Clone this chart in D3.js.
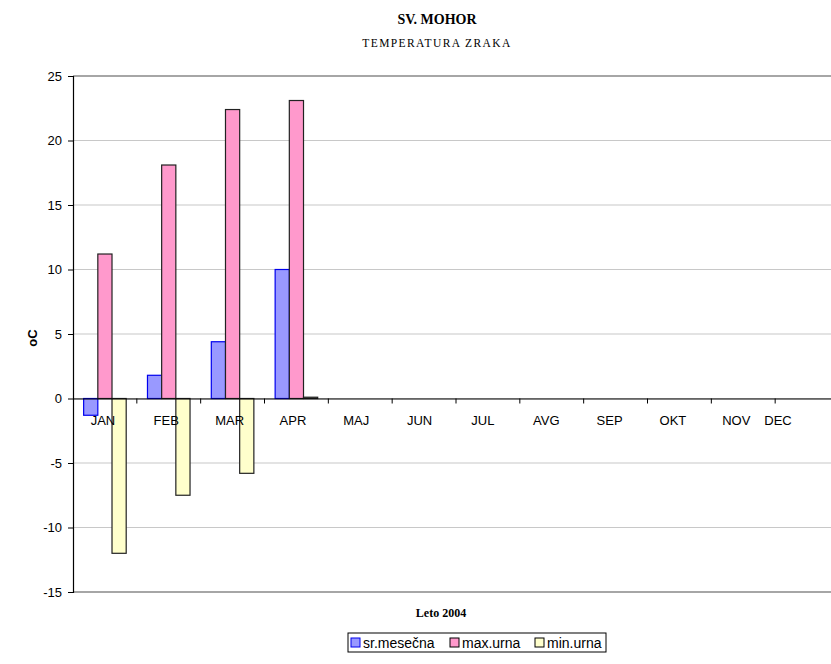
<!DOCTYPE html>
<html><head><meta charset="utf-8">
<script src="https://cdn.jsdelivr.net/npm/d3@7"></script>
<style>body{margin:0;background:#fff}svg{display:block}</style>
</head><body>
<svg id="c" width="831" height="664"></svg>
<script>
const months = ["JAN","FEB","MAR","APR","MAJ","JUN","JUL","AVG","SEP","OKT","NOV","DEC"];
const srMesecna = [-1.3, 1.8, 4.4, 10.0, null, null, null, null, null, null, null, null];
const maxUrna = [11.2, 18.1, 22.4, 23.1, null, null, null, null, null, null, null, null];
const minUrna = [-12.0, -7.5, -5.8, 0.1, null, null, null, null, null, null, null, null];
const yTicks = [-15, -10, -5, 0, 5, 10, 15, 20, 25];
const seriesNames = ["sr.mesečna", "max.urna", "min.urna"];
const fills = ["#9999ff", "#ff99cc", "#ffffcc"];
const strokes = ["#0000ee", "#222", "#222"];
const seriesVals = [srMesecna, maxUrna, minUrna];

const svg = d3.select("#c");
const L = 73, R = 839, T = 76, B = 592;
const x = d3.scaleBand().domain(months).range([L, R]).paddingInner(0).paddingOuter(0);
const y = d3.scaleLinear().domain([-15, 25]).range([B, T]);
const bw = x.bandwidth() / 4.5;
const off = (x.bandwidth() - 3 * bw) / 2;
const AR = "Arial, 'Liberation Sans', sans-serif";
const TM = "'Times New Roman', 'Liberation Serif', serif";

// gridlines
svg.append("g").selectAll("line").data(yTicks).join("line")
  .attr("x1", L).attr("x2", R).attr("y1", d => y(d)).attr("y2", d => y(d))
  .attr("stroke", d => (d === 25 || d === -15) ? "#888" : "#c8c8c8")
  .attr("stroke-width", d => (d === 25 || d === -15) ? 1.5 : 1.2);

// bars
seriesVals.forEach((vals, s) => {
  svg.append("g").selectAll("rect").data(months.map((m, i) => ({m, v: vals[i]})).filter(d => d.v != null))
    .join("rect")
    .attr("x", d => x(d.m) + off + s * bw)
    .attr("width", bw)
    .attr("y", d => y(Math.max(0, d.v)))
    .attr("height", d => Math.max(1, Math.abs(y(d.v) - y(0))))
    .attr("fill", fills[s]).attr("stroke", strokes[s]).attr("stroke-width", 1.2);
});

// zero axis
const xAxis = d3.axisBottom(x).tickSize(0).tickFormat("");
const gx = svg.append("g").attr("transform", `translate(0,${y(0)})`).call(xAxis);
gx.select(".domain").attr("stroke", "#000").attr("stroke-width", 1.2);
svg.append("g").selectAll("line").data(months.slice(1)).join("line")
  .attr("x1", d => x(d)).attr("x2", d => x(d)).attr("y1", y(0)).attr("y2", y(0) + 5)
  .attr("stroke", "#000");
svg.append("g").selectAll("text").data(months).join("text")
  .attr("x", d => Math.min(778, x(d) + x.bandwidth() / 2 - 2 - months.indexOf(d) * 0.5)).attr("y", y(0) + 26)
  .attr("text-anchor", "middle").attr("font-family", AR)
  .attr("font-size", 13).attr("fill", "#000").text(d => d);

// y axis
const yAxis = d3.axisLeft(y).tickValues(yTicks).tickSize(5).tickPadding(6).tickFormat(d => String(d));
const gy = svg.append("g").attr("transform", `translate(${L},0)`).call(yAxis);
gy.select(".domain").attr("stroke", "#000").attr("stroke-width", 1.2);
gy.selectAll(".tick line").attr("stroke", "#000");
gy.selectAll(".tick text").attr("font-family", AR).attr("font-size", 13).attr("fill", "#000");

// axis title
svg.append("text").attr("transform", "translate(37,338) rotate(-90)")
  .attr("text-anchor", "middle").attr("font-family", AR)
  .attr("font-weight", "bold").attr("font-size", 13).text("oC");

// titles
svg.append("text").attr("x", 437).attr("y", 24).attr("text-anchor", "middle")
  .attr("font-family", TM).attr("font-weight", "bold")
  .attr("font-size", 14).text("SV. MOHOR");
svg.append("text").attr("x", 437).attr("y", 47).attr("text-anchor", "middle")
  .attr("font-family", TM).attr("letter-spacing", 1.4)
  .attr("font-size", 11.5).text("TEMPERATURA ZRAKA");
svg.append("text").attr("x", 441).attr("y", 617).attr("text-anchor", "middle")
  .attr("font-family", TM).attr("font-weight", "bold")
  .attr("font-size", 12).text("Leto 2004");

// legend
const lg = svg.append("g");
lg.append("rect").attr("x", 348).attr("y", 633).attr("width", 258).attr("height", 19)
  .attr("fill", "#fff").attr("stroke", "#000").attr("stroke-width", 1);
const legX = [351, 450, 535];
seriesNames.forEach((n, i) => {
  lg.append("rect").attr("x", legX[i]).attr("y", 638).attr("width", 9).attr("height", 9)
    .attr("fill", fills[i]).attr("stroke", i === 0 ? "#0000ee" : "#000");
  lg.append("text").attr("x", legX[i] + 12).attr("y", 647.5)
    .attr("font-family", AR).attr("font-size", 14).text(n);
});
</script>
</body></html>
